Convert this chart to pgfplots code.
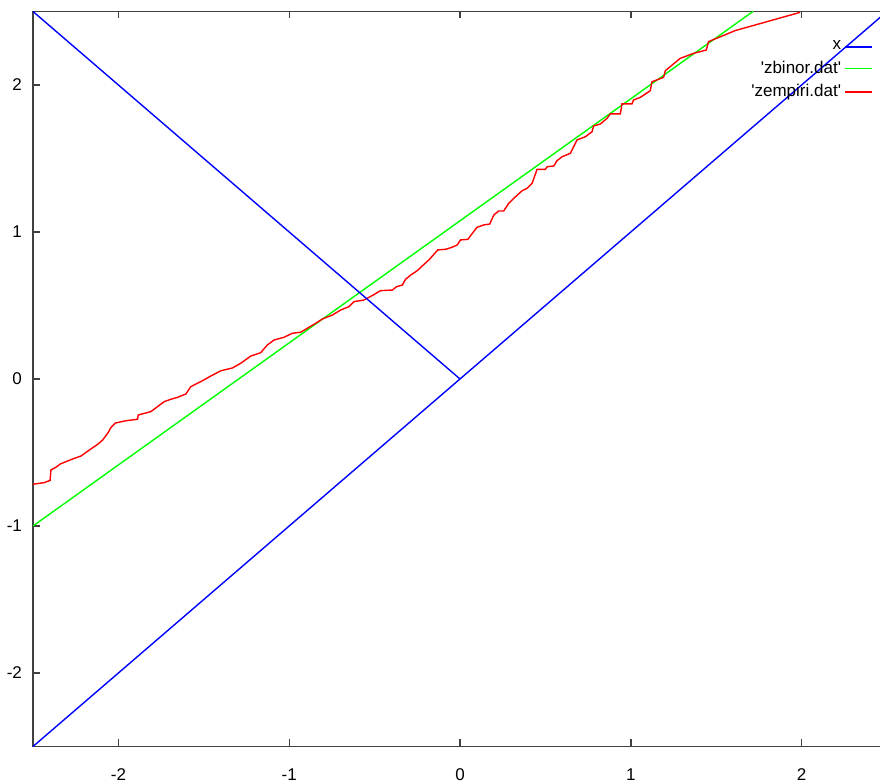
\documentclass[border=0pt]{standalone}
\usepackage{fontspec}
\setmainfont{Liberation Sans}
\usepackage{pgfplots}
\pgfplotsset{compat=1.18}
\newcommand{\q}{\textquotesingle}
\definecolor{gpblue}{RGB}{0,0,255}
\definecolor{gpgreen}{RGB}{0,255,0}
\definecolor{gpred}{RGB}{255,0,0}
\definecolor{gpaxis}{RGB}{64,64,64}
\begin{document}
\begin{tikzpicture}[font=\fontsize{8.5}{10}\selectfont]
\begin{axis}[
  name=ax,
  scale only axis,
  width=427pt, height=367.5pt,
  xmin=-2.5, xmax=2.5, ymin=-2.5, ymax=2.5,
  xtick={-2,-1,0,1,2}, ytick={-2,-1,0,1,2},
  /pgf/number format/assume math mode=true,
  tick align=inside,
  major tick length=3.5pt,
  axis line style={gpaxis, line width=0.7pt},
  every tick/.style={gpaxis, line width=0.7pt},
  xticklabel style={yshift=-7.5pt},
  yticklabel style={xshift=-2pt},
  legend cell align=right,
  legend plot pos=right,
  legend image code/.code={\draw[#1, line width=0.8pt] (1.5pt,0pt) -- (15pt,0pt);},
  legend style={draw=none, fill=none, at={(1,1)}, anchor=north east,
    xshift=-4pt, yshift=-10.95pt, row sep=1pt,
    nodes={inner sep=1.5pt}},
]
% y = x
\addplot[gpblue, line width=0.7pt] coordinates {(-2.5,-2.5) (0,0) (2.5,2.5)};
\addlegendentry{x}
\addplot[gpgreen, line width=0.7pt] coordinates {(-2.5,-1.0) (0,1.076) (1.715,2.5)};
\addlegendentry{\q zbinor.dat\q}
\addplot[gpred, line width=0.7pt] coordinates {
(-2.5,-0.716) (-2.434,-0.705) (-2.40,-0.69) (-2.395,-0.619) (-2.365,-0.60)
(-2.34,-0.578) (-2.297,-0.558) (-2.268,-0.544) (-2.219,-0.524) (-2.17,-0.483)
(-2.121,-0.444) (-2.092,-0.415) (-2.063,-0.37) (-2.044,-0.331) (-2.019,-0.30)
(-1.956,-0.284) (-1.888,-0.274) (-1.884,-0.245) (-1.81,-0.222) (-1.771,-0.188)
(-1.732,-0.154) (-1.693,-0.138) (-1.654,-0.125) (-1.605,-0.102) (-1.576,-0.052)
(-1.518,-0.018) (-1.459,0.02) (-1.40,0.056) (-1.332,0.075) (-1.284,0.107)
(-1.225,0.156) (-1.167,0.179) (-1.128,0.231) (-1.089,0.265) (-1.03,0.284)
(-0.981,0.311) (-0.933,0.318) (-0.894,0.345) (-0.845,0.379) (-0.806,0.408)
(-0.747,0.435) (-0.699,0.469) (-0.65,0.492) (-0.621,0.526) (-0.563,0.537)
(-0.51,0.57) (-0.465,0.601) (-0.396,0.605) (-0.371,0.628) (-0.338,0.639)
(-0.319,0.678) (-0.289,0.707) (-0.25,0.737) (-0.221,0.769) (-0.182,0.81)
(-0.13,0.878) (-0.085,0.882) (-0.046,0.896) (-0.016,0.912) (0.003,0.946)
(0.046,0.95) (0.065,0.98) (0.1,1.032) (0.139,1.048) (0.174,1.054)
(0.198,1.116) (0.227,1.143) (0.256,1.143) (0.285,1.195) (0.325,1.24)
(0.364,1.281) (0.393,1.297) (0.422,1.331) (0.436,1.376) (0.451,1.426)
(0.5,1.426) (0.51,1.444) (0.549,1.449) (0.568,1.485) (0.598,1.512)
(0.646,1.535) (0.685,1.626) (0.734,1.648) (0.773,1.682) (0.782,1.721)
(0.822,1.735) (0.861,1.773) (0.88,1.803) (0.939,1.803) (0.948,1.871)
(1.007,1.871) (1.016,1.898) (1.056,1.916) (1.114,1.961) (1.124,2.022)
(1.192,2.052) (1.202,2.097) (1.289,2.181) (1.367,2.215) (1.442,2.238)
(1.455,2.295) (1.611,2.37) (1.991,2.494)
};
\addlegendentry{\q zempiri.dat\q}
% return stroke of the x curve to the upper left corner
\addplot[gpblue, line width=0.7pt, forget plot] coordinates {(0,0) (-2.5,2.5)};
\end{axis}
\pgfresetboundingbox
\path[use as bounding box]
  ([xshift=-16.5pt,yshift=-17.75pt]ax.south west)
  rectangle ([xshift=-3.5pt,yshift=5.75pt]ax.north east);
\end{tikzpicture}
\end{document}
